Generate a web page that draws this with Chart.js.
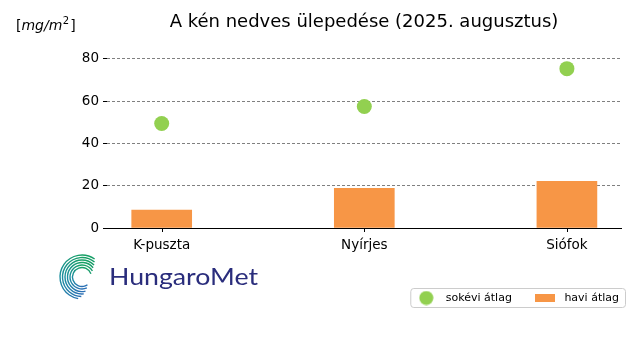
<!DOCTYPE html>
<html>
<head>
<meta charset="utf-8">
<script src="https://cdn.jsdelivr.net/npm/chart.js@4/dist/chart.umd.min.js"></script>
<style>
  html, body { margin: 0; padding: 0; background: #fff; }
  #wrap { width: 640px; height: 360px; position: relative; }
</style>
</head>
<body>
<div id="wrap"><canvas id="grafikon" width="640" height="360"></canvas></div>
<script>
const categories = ['K-puszta', 'Nyírjes', 'Siófok'];
const haviAtlag = [8.5, 18.8, 22.1];
const sokeviAtlag = [49.4, 57.4, 75.3];
const yTicks = [0, 20, 40, 60, 80];
const seriesLabels = ['sokévi átlag', 'havi átlag'];

const ZOLD = '#92D050';
const NARANCS = '#F79646';

Chart.defaults.font.family = '"DejaVu Sans", sans-serif';
Chart.defaults.color = '#000';

// jelmagyarázat ikonjai (kör és téglalap)
function ikon(w, h, rajzol) {
    const c = document.createElement('canvas');
    c.width = w; c.height = h;
    rajzol(c.getContext('2d'));
    return c;
}
const korIkon = ikon(15, 15, (g) => {
    g.fillStyle = ZOLD;
    g.beginPath(); g.arc(7.5, 7.5, 7, 0, Math.PI * 2); g.fill();
});
const tegIkon = ikon(20, 8, (g) => {
    g.fillStyle = NARANCS;
    g.fillRect(0, 0, 20, 8);
});
const legendIcons = [korIkon, tegIkon];

const extraPlugin = {
    id: 'extra',
    afterLayout(chart) {
        // a jelmagyarázat jobbra tolása
        const lg = chart.legend;
        lg.left += 17;
        lg.right += 17;
    },
    beforeDraw(chart) {
        const ctx = chart.ctx;
        ctx.save();
        ctx.fillStyle = '#fff';
        ctx.fillRect(0, 0, chart.width, chart.height);

        // keret a jelmagyarázat körül
        const lg = chart.legend;
        const pad = lg.options.labels.padding;
        const cy = lg.top + pad + 5.5;
        const x0 = lg.right - lg.lineWidths[0] - 2;
        const x1 = lg.right - pad + 6;
        ctx.beginPath();
        ctx.roundRect(x0 + 0.5, cy - 9.5, x1 - x0, 19, 3);
        ctx.strokeStyle = '#cccccc';
        ctx.lineWidth = 1;
        ctx.stroke();
        ctx.restore();
    },
    afterDraw(chart) {
        const ctx = chart.ctx;
        ctx.save();

        // x tengely osztásjelei a kategóriáknál
        const xs = chart.scales.x;
        ctx.strokeStyle = '#000';
        ctx.lineWidth = 1;
        categories.forEach((c, i) => {
            const px = Math.round(xs.getPixelForValue(i)) + 0.5;
            ctx.beginPath();
            ctx.moveTo(px, xs.top);
            ctx.lineTo(px, xs.top + 4);
            ctx.stroke();
        });

        // mértékegység
        ctx.fillStyle = '#000';
        ctx.textBaseline = 'middle';
        let x = 16;
        const y = 26;
        ctx.font = '14px "DejaVu Sans"';
        ctx.fillText('[', x, y); x += ctx.measureText('[').width;
        ctx.font = 'italic 14px "DejaVu Sans"';
        ctx.fillText('mg/m', x, y); x += ctx.measureText('mg/m').width;
        ctx.font = '10px "DejaVu Sans"';
        ctx.fillText('2', x + 0.5, y - 5); x += ctx.measureText('2').width + 1.5;
        ctx.font = '14px "DejaVu Sans"';
        ctx.fillText(']', x, y);

        // HungaroMet logó
        const cx = 82, cyl = 277;
        const grad = ctx.createConicGradient(0, cx, cyl);
        grad.addColorStop(0, '#2a7cb5');
        grad.addColorStop(0.25, '#2b6fb5');
        grad.addColorStop(0.5, '#1c8ea0');
        grad.addColorStop(0.75, '#17a064');
        grad.addColorStop(1, '#1a9a70');
        ctx.strokeStyle = grad;
        ctx.lineWidth = 1.4;
        const deg = Math.PI / 180;
        const gyuruk = [
            [22, -55, 100], [19.5, -50, 92], [17, -45, 84],
            [14.5, -40, 76], [12, -30, 66], [9.5, -20, 55]
        ];
        gyuruk.forEach(([r, a0, a1]) => {
            ctx.beginPath();
            ctx.arc(cx, cyl, r, a0 * deg, a1 * deg, true);
            ctx.stroke();
        });
        ctx.fillStyle = '#2a2d7c';
        ctx.font = '400 24px Lato';
        ctx.textBaseline = 'alphabetic';
        const szel = ctx.measureText('HungaroMet').width;
        ctx.translate(109, 285);
        ctx.scale(149 / szel, 1);
        ctx.fillText('HungaroMet', 0, 0);
        ctx.restore();
    }
};

const ctx = document.getElementById('grafikon').getContext('2d');

new Chart(ctx, {
    type: 'bar',
    data: {
        datasets: [{
            type: 'scatter',
            label: seriesLabels[0],
            data: categories.map((c, i) => ({ x: i, y: sokeviAtlag[i] })),
            backgroundColor: ZOLD,
            borderColor: ZOLD,
            pointRadius: 7.5,
            pointHoverRadius: 7.5,
            borderWidth: 0,
            order: 0
        }, {
            type: 'bar',
            label: seriesLabels[1],
            data: categories.map((c, i) => ({ x: i, y: haviAtlag[i] })),
            backgroundColor: NARANCS,
            barThickness: 60,
            order: 1
        }]
    },
    options: {
        responsive: false,
        animation: false,
        devicePixelRatio: 1,
        layout: { padding: { left: 0, right: 19, top: 0, bottom: 46.5 } },
        plugins: {
            tooltip: { enabled: false },
            title: {
                display: true,
                text: 'A kén nedves ülepedése (2025. augusztus)',
                fullSize: false,
                color: '#000',
                font: { size: 18, weight: 'normal' },
                padding: { top: 12, bottom: 8.2 }
            },
            legend: {
                display: true,
                position: 'bottom',
                align: 'end',
                labels: {
                    usePointStyle: true,
                    pointStyleWidth: 28,
                    padding: 19,
                    color: '#000',
                    font: { size: 11 },
                    generateLabels: (chart) => chart.data.datasets.map((ds, i) => ({
                        text: ds.label,
                        pointStyle: legendIcons[i],
                        fillStyle: 'transparent',
                        strokeStyle: 'transparent',
                        lineWidth: 0,
                        hidden: false,
                        datasetIndex: i,
                        fontColor: '#000'
                    }))
                }
            }
        },
        scales: {
            x: {
                type: 'linear',
                min: -0.27,
                max: 2.267,
                offset: false,
                afterBuildTicks: (scale) => {
                    scale.ticks = categories.map((c, i) => ({ value: i }));
                },
                afterFit: (scale) => { scale.height = 45.5; },
                ticks: {
                    autoSkip: false,
                    maxRotation: 0,
                    padding: 1,
                    color: '#000',
                    font: { size: 13.5 },
                    callback: (v) => categories[v] ?? ''
                },
                grid: {
                    display: false,
                    offset: false
                },
                border: { display: true, color: '#000', width: 1 }
            },
            y: {
                min: 0,
                max: 88,
                afterBuildTicks: (scale) => {
                    scale.ticks = yTicks.map((v) => ({ value: v }));
                },
                afterFit: (scale) => { scale.width = 107; },
                ticks: {
                    padding: 4,
                    color: '#000',
                    font: { size: 13.5 }
                },
                grid: {
                    color: '#808080',
                    lineWidth: 1,
                    drawTicks: true,
                    tickLength: 4,
                    tickColor: '#000',
                    tickBorderDash: []
                },
                border: { display: false, dash: [3, 2] }
            }
        }
    },
    plugins: [extraPlugin]
});
</script>
</body>
</html>
